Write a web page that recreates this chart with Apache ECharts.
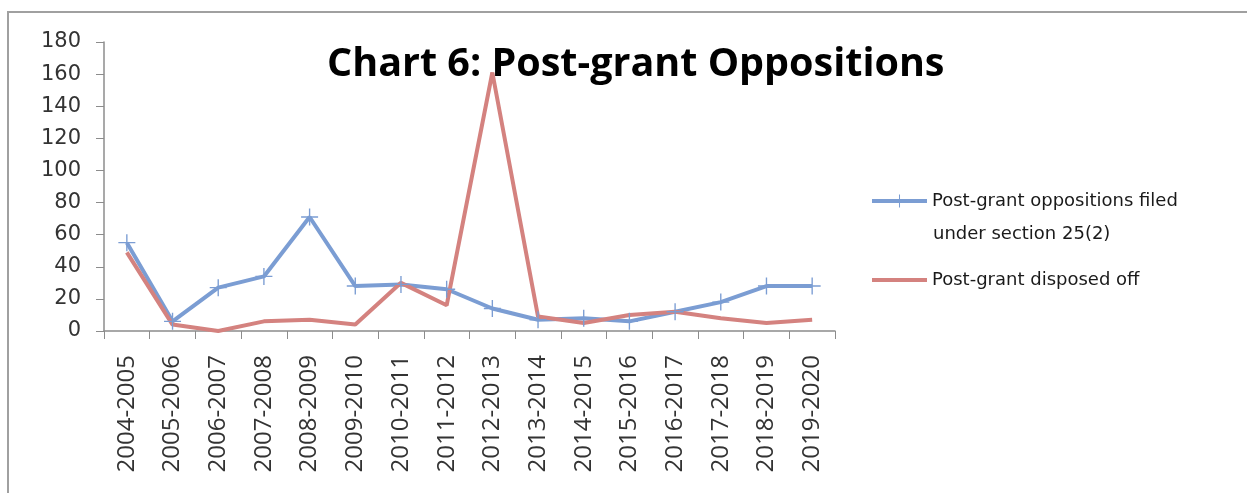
<!DOCTYPE html>
<html>
<head>
<meta charset="utf-8">
<script src="https://cdn.jsdelivr.net/npm/echarts@6/dist/echarts.min.js"></script>
<style>
  html, body { margin: 0; padding: 0; background: #fff; }
  #chart { width: 1247px; height: 493px; }
</style>
</head>
<body>
<div id="chart"></div>
<script>
const years = [
  "2004-2005", "2005-2006", "2006-2007", "2007-2008", "2008-2009", "2009-2010",
  "2010-2011", "2011-2012", "2012-2013", "2013-2014", "2014-2015", "2015-2016",
  "2016-2017", "2017-2018", "2018-2019", "2019-2020"
];
const filed = [55, 6, 27, 34, 71, 28, 29, 26, 14, 7, 8, 6, 12, 18, 28, 28];
const disposed = [49, 4, 0, 6, 7, 4, 30, 16, 161, 9, 5, 10, 12, 8, 5, 7];

const filedName = "Post-grant oppositions filed under section 25(2)";
const filedLine1 = "Post-grant oppositions filed";
const filedLine2 = "under section 25(2)";
const disposedName = "Post-grant disposed off";

const plus = "path://M4.6,0h0.8v4.6h4.6v0.8h-4.6v4.6h-0.8v-4.6h-4.6v-0.8h4.6z";
const titleFont = "Open Sans";
const font = "DejaVu Sans";

const chart = echarts.init(document.getElementById("chart"));

chart.setOption({
  backgroundColor: "#fff",
  animation: false,
  graphic: [
    {
      type: "rect",
      shape: { x: 8, y: 12, width: 1400, height: 600 },
      style: { fill: "none", stroke: "#a0a0a0", lineWidth: 2 }
    },
    {
      type: "text",
      x: 933,
      y: 234,
      style: {
        text: filedLine2,
        font: "18px 'DejaVu Sans'",
        fill: "#1a1a1a",
        verticalAlign: "middle"
      }
    }
  ],
  title: {
    text: "Chart 6: Post-grant Oppositions",
    left: 322,
    top: 40,
    textStyle: { fontFamily: titleFont, fontSize: 39.5, fontWeight: "bold", color: "#000" }
  },
  legend: {
    orient: "vertical",
    left: 870,
    top: 190,
    padding: 0,
    itemWidth: 55,
    itemHeight: 16,
    itemGap: 57,
    formatter: (name) => (name === filedName ? filedLine1 : name),
    textStyle: { fontFamily: font, fontSize: 18, color: "#1a1a1a", lineHeight: 22 },
    data: [
      { name: filedName, lineStyle: { width: 4 } },
      { name: disposedName, itemStyle: { opacity: 0 }, lineStyle: { width: 4 } }
    ]
  },
  grid: { left: 104, right: 412, top: 42, bottom: 162 },
  xAxis: {
    type: "category",
    data: years,
    boundaryGap: true,
    axisLine: { lineStyle: { color: "#8c8c8c", width: 1.5 } },
    axisTick: { show: true, length: 8, lineStyle: { color: "#8c8c8c" } },
    axisLabel: { rotate: 90, interval: 0, margin: 24, fontFamily: titleFont, fontSize: 24, color: "#333" },
    splitLine: { show: false }
  },
  yAxis: {
    type: "value",
    min: 0,
    max: 180,
    interval: 20,
    axisLine: { show: true, lineStyle: { color: "#8c8c8c", width: 1.5 } },
    axisTick: { show: true, length: 8, lineStyle: { color: "#8c8c8c" } },
    axisLabel: { margin: 23, fontFamily: font, fontSize: 21, color: "#333" },
    splitLine: { show: false }
  },
  series: [
    {
      name: filedName,
      type: "line",
      data: filed,
      symbol: plus,
      symbolSize: 17,
      showSymbol: true,
      lineStyle: { color: "#7b9dd3", width: 4 },
      itemStyle: { color: "#7b9dd3" }
    },
    {
      name: disposedName,
      type: "line",
      data: disposed,
      symbol: "none",
      lineStyle: { color: "#d4827f", width: 4 },
      itemStyle: { color: "#d4827f" }
    }
  ]
});
</script>
</body>
</html>
